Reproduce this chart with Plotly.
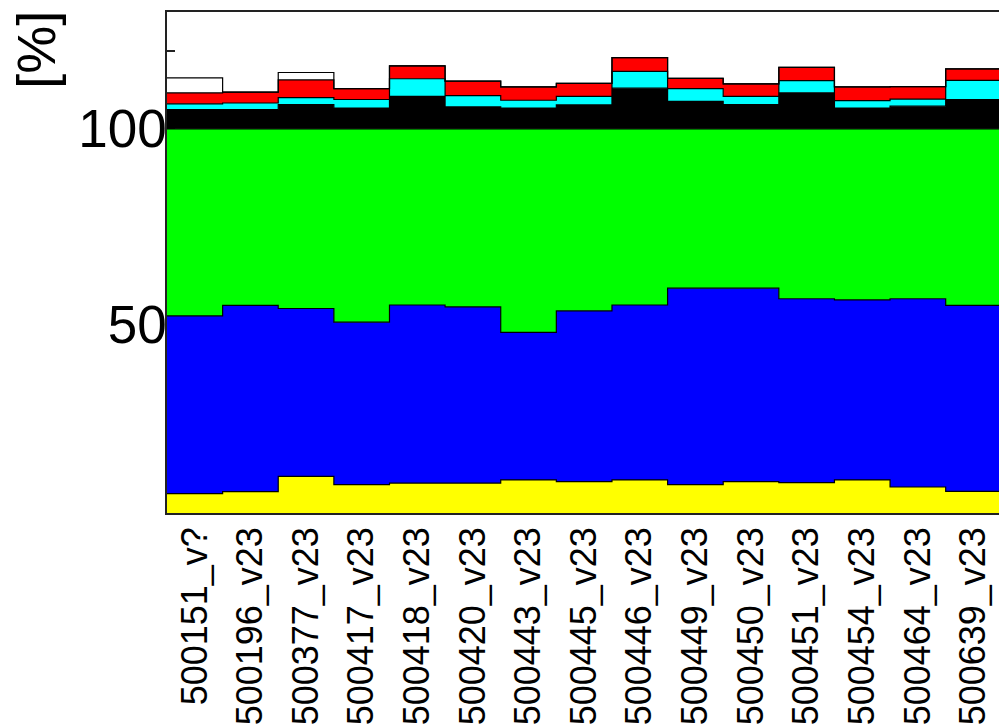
import plotly.graph_objects as go

categories = ["500151_v?", "500196_v23", "500377_v23", "500417_v23", "500418_v23",
              "500420_v23", "500443_v23", "500445_v23", "500446_v23", "500449_v23",
              "500450_v23", "500451_v23", "500454_v23", "500464_v23", "500639_v23"]

yellow = [6.8, 7.3, 11.2, 9.1, 9.5, 9.5, 10.3, 9.9, 10.3, 9.1, 9.9, 9.6, 10.3, 8.5, 7.4]
blue = [45.4, 47.6, 42.9, 41.5, 45.5, 45.0, 37.7, 43.6, 44.7, 50.2, 49.4, 47.0, 46.0, 48.1, 47.5]
green = [47.8, 45.1, 45.9, 49.4, 45.0, 45.5, 52.0, 46.5, 45.0, 40.7, 40.7, 43.4, 43.7, 43.4, 45.1]
black = [4.9, 4.9, 6.2, 5.3, 8.3, 5.6, 5.3, 6.1, 10.4, 7.0, 6.2, 9.2, 5.3, 5.8, 7.5]
cyan = [1.5, 1.7, 1.8, 2.2, 4.5, 2.9, 2.0, 2.2, 4.3, 3.3, 2.1, 3.1, 1.9, 1.8, 4.9]
red = [2.8, 2.8, 4.5, 2.8, 3.3, 3.7, 3.4, 3.3, 3.5, 2.6, 3.2, 3.4, 3.5, 3.2, 2.9]
white = [3.8, 0, 1.9, 0, 0, 0, 0, 0, 0, 0, 0, 0, 0, 0, 0]

layers = [
    ("yellow", yellow, "#ffff00"),
    ("blue", blue, "#0000ff"),
    ("green", green, "#00ff00"),
    ("black", black, "#000000"),
    ("cyan", cyan, "#00ffff"),
    ("red", red, "#ff0000"),
    ("white", white, "#ffffff"),
]

n = len(categories)
edges = list(range(n + 1))

fig = go.Figure()
for name, vals, col in layers:
    fig.add_trace(go.Scatter(
        x=edges, y=list(vals) + [vals[-1]],
        mode="lines", name=name,
        stackgroup="s",
        line=dict(shape="hv", color="#000000", width=1.2),
        fillcolor=col,
        hoverinfo="skip",
    ))

FONT = "Liberation Sans, Arial, sans-serif"
yt = list(range(10, 130, 10))
ytext = [str(v) if v in (50, 100) else "" for v in yt]

fig.update_layout(
    width=999, height=725,
    margin=dict(l=167, r=0, t=12, b=210),
    paper_bgcolor="white", plot_bgcolor="white",
    showlegend=False,
    font=dict(family=FONT, color="black"),
    xaxis=dict(
        range=[0, 832 / 55.62],
        tickvals=[i + 0.5 for i in range(n)],
        ticktext=categories,
        tickangle=-90,
        tickfont=dict(size=36, family=FONT, color="black"),
        ticks="",
        showgrid=False, zeroline=False,
        showline=True, linecolor="#222", linewidth=1.5, mirror=True,
        ticklabelstandoff=-2,
    ),
    yaxis=dict(
        range=[1.86, 129.85],
        tickvals=yt, ticktext=ytext,
        ticks="inside", ticklen=8, tickcolor="#222", tickwidth=1.5,
        tickfont=dict(size=53, family=FONT, color="black"),
        showgrid=False, zeroline=False,
        showline=True, linecolor="#222", linewidth=1.5, mirror=False,
        layer="below traces",
        ticklabelstandoff=-12,
    ),
    annotations=[dict(
        text="[%]", textangle=-90, showarrow=False,
        xref="paper", yref="paper",
        x=(36 - 167) / 832, y=(515 - 50) / 503,
        xanchor="center", yanchor="middle",
        font=dict(size=54, family=FONT, color="black"),
    )],
)

fig.write_html("out.html")
